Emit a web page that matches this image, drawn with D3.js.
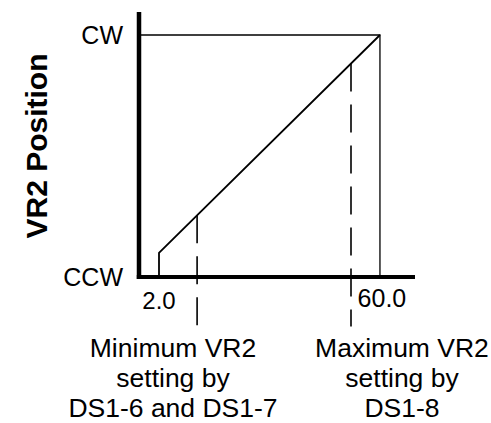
<!DOCTYPE html>
<html>
<head>
<meta charset="utf-8">
<script src="https://cdn.jsdelivr.net/npm/d3@7"></script>
<style>
  html, body { margin: 0; padding: 0; background: #fff; }
  svg { display: block; }
  text { font-family: "Liberation Sans", Arial, Helvetica, sans-serif; fill: #000; }
</style>
</head>
<body>
<svg id="chart" width="491" height="423"></svg>
<script>
// Setting range (horizontal) and pot rotation (vertical)
const xExtent = [-3.25, 69.2];
const yExtent = [0, 109.5];

// Pot positions, end stops
const positionValues = [0, 100];
const positionLabels = ["CCW", "CW"];

// Range ticks
const tickValues = [2.0, 60.0];
const tickLabels = ["2.0", "60.0"];

// Transfer ramp: setting vs. VR2 rotation
const rampX = [2.0, 60.0];
const rampY = [10, 100];

// DIP switch limits
const limitValues = [12.0, 52.4];
const limitLabels = [
  ["Minimum VR2", "setting by", "DS1-6 and DS1-7"],
  ["Maximum VR2", "setting by", "DS1-8"]
];
const dashBottom = -20.5;

const svg = d3.select("#chart");

const x = d3.scaleLinear().domain(xExtent).range([139, 415]);
const y = d3.scaleLinear().domain(yExtent).range([277, 12]);

const rampAt = v => rampY[0] + (v - rampX[0]) * (rampY[1] - rampY[0]) / (rampX[1] - rampX[0]);

const line = d3.line().x(d => x(d[0])).y(d => y(d[1]));

// guide from the axis across the CW level and down at the maximum setting
svg.append("path")
  .attr("d", line([[xExtent[0], positionValues[1]], [rampX[1], positionValues[1]], [rampX[1], positionValues[0]]]))
  .attr("fill", "none").attr("stroke", "#000").attr("stroke-width", 1.3);

// ramp, starting with a riser at the minimum setting
svg.append("path")
  .attr("d", line([[rampX[0], positionValues[0]], [rampX[0], rampY[0]], [rampX[1], rampY[1]]]))
  .attr("fill", "none").attr("stroke", "#000").attr("stroke-width", 1.8)
  .attr("stroke-linejoin", "miter");

// dashed limit markers
svg.selectAll("line.limit")
  .data(limitValues)
  .join("line")
  .attr("class", "limit")
  .attr("x1", d => x(d)).attr("x2", d => x(d))
  .attr("y1", d => y(rampAt(d))).attr("y2", y(dashBottom))
  .attr("stroke", "#000").attr("stroke-width", 1.6)
  .attr("stroke-dasharray", "28,13");

// thick axes
svg.append("line")
  .attr("x1", x(xExtent[0])).attr("x2", x(xExtent[0]))
  .attr("y1", y(yExtent[1])).attr("y2", y(yExtent[0]) + 2)
  .attr("stroke", "#000").attr("stroke-width", 4.5);
svg.append("line")
  .attr("x1", x(xExtent[0]) - 2.2).attr("x2", x(xExtent[1]))
  .attr("y1", y(yExtent[0])).attr("y2", y(yExtent[0]))
  .attr("stroke", "#000").attr("stroke-width", 4);

// position labels
svg.selectAll("text.pos")
  .data(positionValues)
  .join("text")
  .attr("class", "pos")
  .attr("x", 123)
  .attr("y", d => y(d) + 9)
  .attr("text-anchor", "end")
  .style("font-size", "25px")
  .text((d, i) => positionLabels[i]);

// range tick labels
svg.append("text")
  .attr("x", x(tickValues[0])).attr("y", 309)
  .attr("text-anchor", "middle")
  .style("font-size", "24px")
  .text(tickLabels[0]);
svg.append("text")
  .attr("x", x(tickValues[1]) + 2).attr("y", 307)
  .attr("text-anchor", "middle")
  .style("font-size", "25px")
  .text(tickLabels[1]);

// vertical title
svg.append("text")
  .attr("transform", "translate(47,146) rotate(-90)")
  .attr("text-anchor", "middle")
  .style("font-size", "30px")
  .style("font-weight", "bold")
  .text("VR2 Position");

// limit captions
const captionX = [173, 402];
limitLabels.forEach((lines, i) => {
  const t = svg.append("text")
    .attr("text-anchor", "middle")
    .style("font-size", "26.5px");
  lines.forEach((s, j) => {
    t.append("tspan")
      .attr("x", captionX[i])
      .attr("y", 357 + j * 30)
      .text(s);
  });
});
</script>
</body>
</html>
